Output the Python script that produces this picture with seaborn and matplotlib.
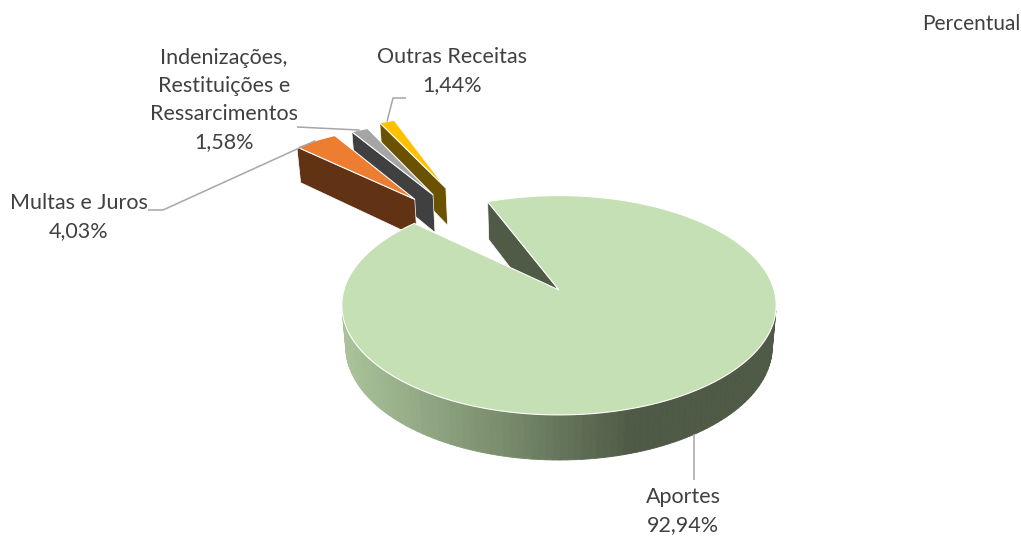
import numpy as np
import matplotlib
matplotlib.use("Agg")
import matplotlib.pyplot as plt
from matplotlib.patches import Polygon
import seaborn as sns

# data
categories = ["Aportes", "Multas e Juros",
              "Indenizações,\nRestituições e\nRessarcimentos", "Outras Receitas"]
percent = [92.94, 4.03, 1.58, 1.44]
percent_labels = ["92,94%", "4,03%", "1,58%", "1,44%"]
top_colors = ["#c5e0b4", "#ed7d31", "#a5a5a5", "#ffc000"]
side_colors = ["#4f5b47", "#613214", "#404040", "#6b5200"]
explode = [0.0, 1.22, 1.21, 1.25]
explode_dir = [0.0, 128.5, 123.5, 119.0]  # degrees
wall_colors = ["#a9c29a", "#7d916f", "#4e5a46", "#4e5a46"]

# label layout (pixel space)
label_pos = [(683, 511), (79, 217), (224, 100), (452, 71)]
leader_elbows = [[(None, 480)], [(163, 210), (148, 210)],
                 [(297, 127)], [(393, 98), (406, 98)]]

# view of the 3d pie
ELEV = np.radians(30)
DIST = 6.23
FOCAL = 1340
CX, CY = 559, 290
THICK = 0.225
START = 112

sns.set_theme(style="white")
plt.rcParams["font.family"] = ["Lato", "DejaVu Sans"]
TXT = "#404040"


def project(x, y, z):
    depth = DIST + y * np.cos(ELEV) - z * np.sin(ELEV)
    sx = CX + FOCAL * x / depth
    sy = CY - FOCAL * (y * np.sin(ELEV) + z * np.cos(ELEV)) / depth
    return sx, sy


cam = np.array([0, -DIST * np.cos(ELEV), DIST * np.sin(ELEV)])


def facing(p, n):
    return np.dot(cam - np.asarray(p), n) > 0


fig = plt.figure(figsize=(10.21, 5.36), dpi=100)
ax = fig.add_axes([0, 0, 1, 1])
ax.set_xlim(0, 1021)
ax.set_ylim(536, 0)
ax.axis("off")

spans = np.array(percent) / sum(percent) * 360
starts = START - np.concatenate([[0], np.cumsum(spans)[:-1]])
ends = starts - spans

left_x = project(-1, 0, 0)[0]
right_x = project(1, 0, 0)[0]
wall_pal = sns.blend_palette(wall_colors, 101)

anchors = {}
# back slices first, main slice last
for i in [3, 2, 1, 0]:
    a1, a2 = ends[i], starts[i]
    mid = np.radians((a1 + a2) / 2)
    d = np.radians(explode_dir[i])
    ox, oy = explode[i] * np.cos(d), explode[i] * np.sin(d)
    phis = np.radians(np.linspace(a1, a2, 200))
    ax_ = ox + np.cos(phis)
    ay_ = oy + np.sin(phis)

    # radial faces
    for t, sgn in [(np.radians(a2), 1), (np.radians(a1), -1)]:
        n = np.array([np.cos(t + sgn * np.pi / 2), np.sin(t + sgn * np.pi / 2), 0])
        if facing((ox, oy, -THICK / 2), n):
            pts = [(ox, oy, 0), (ox + np.cos(t), oy + np.sin(t), 0),
                   (ox + np.cos(t), oy + np.sin(t), -THICK), (ox, oy, -THICK)]
            ax.add_patch(Polygon([project(*p) for p in pts], closed=True,
                                 facecolor=side_colors[i], edgecolor="white",
                                 linewidth=0.5))

    # outer wall
    for k in range(len(phis) - 1):
        pm = (phis[k] + phis[k + 1]) / 2
        n = np.array([np.cos(pm), np.sin(pm), 0])
        if not facing((ox + np.cos(pm), oy + np.sin(pm), -THICK / 2), n):
            continue
        quad = [project(ax_[k], ay_[k], 0), project(ax_[k + 1], ay_[k + 1], 0),
                project(ax_[k + 1], ay_[k + 1], -THICK), project(ax_[k], ay_[k], -THICK)]
        if i == 0:
            sx = project(ox + np.cos(pm), oy + np.sin(pm), 0)[0]
            f = np.clip((sx - left_x) / (right_x - left_x), 0, 1)
            col = wall_pal[int(f * 100)]
        else:
            col = side_colors[i]
        ax.add_patch(Polygon(quad, closed=True, facecolor=col,
                             edgecolor=col, linewidth=0.6))

    # top face
    top = [project(ox, oy, 0)] + [project(x, y, 0) for x, y in zip(ax_, ay_)]
    ax.add_patch(Polygon(top, closed=True, facecolor=top_colors[i],
                         edgecolor="white", linewidth=0.8))

    if i == 0:
        anchors[i] = project(np.cos(mid), np.sin(mid), -THICK)
    else:
        anchors[i] = project(ox + np.cos(mid), oy + np.sin(mid), 0)

# labels and leader lines
for i in range(len(categories)):
    a_pt = anchors[i]
    pts = [a_pt]
    for ex, ey in leader_elbows[i]:
        pts.append((a_pt[0] if ex is None else ex, ey))
    xs, ys = zip(*pts)
    ax.plot(xs, ys, color="#a6a6a6", linewidth=1.1, solid_capstyle="butt")
    ax.text(label_pos[i][0], label_pos[i][1],
            categories[i] + "\n" + percent_labels[i],
            ha="center", va="center", fontsize=15.5, color=TXT, linespacing=1.5)

ax.text(1020, 24, "Percentual", ha="right", va="center", fontsize=15, color=TXT)

fig.savefig("out.png", dpi=100)
